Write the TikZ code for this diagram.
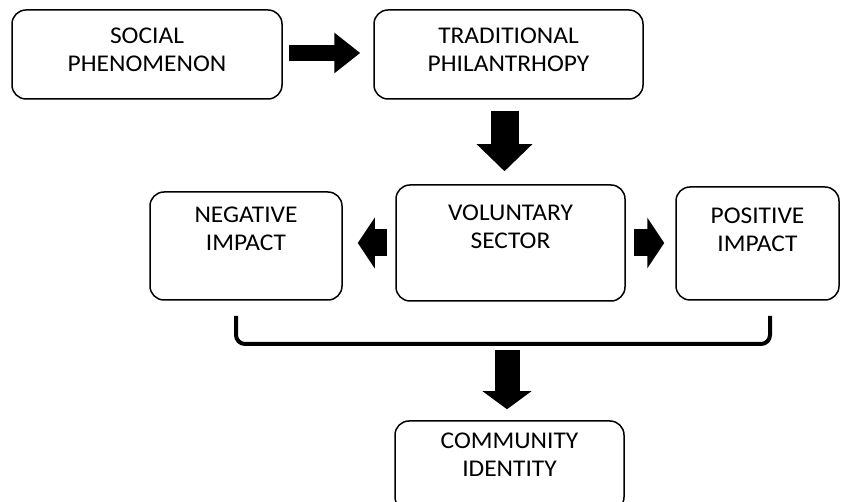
\documentclass[tikz,border=0pt]{standalone}
\usepackage{fontspec}
\setmainfont{Carlito}[FakeStretch=1.06]
\usetikzlibrary{arrows.meta}
\begin{document}
\begin{tikzpicture}[x=1pt,y=-1pt,
  box/.style={draw=black, line width=1.5pt, rounded corners=14pt, fill=white, inner sep=0pt},
  txt/.style={align=center, font=\fontsize{24}{28}\selectfont, inner sep=0pt},
  fatH/.style={line width=16pt, -{Triangle[width=39pt,length=26pt]}},
  fatV/.style={line width=28pt, -{Triangle[width=54pt,length=27pt]}},
  fatS/.style={line width=27pt, -{Triangle[width=50pt,length=17pt]}},
  fatB/.style={line width=25pt, -{Triangle[width=48pt,length=18pt]}},
  brk/.style={line width=4pt, rounded corners=9pt}
]
\useasboundingbox (0,0) rectangle (841,502);
\clip (0,0) rectangle (841,502);
\fill[white] (0,0) rectangle (841,502);

\node[box, minimum width=270pt, minimum height=89pt] (soc) at (147,54.5) {};
\node[txt] (soct) at ([yshift=5pt]soc.center) {SOCIAL\\PHENOMENON};

\node[box, minimum width=269pt, minimum height=89pt] (trad) at (508.5,54.5) {};
\node[txt] (tradt) at ([yshift=5pt]trad.center) {TRADITIONAL\\PHILANTRHOPY};

\node[box, minimum width=229pt, minimum height=116pt] (vol) at (510.5,243) {};
\node[txt] (volt) at ([yshift=16pt]vol.center) {VOLUNTARY\\SECTOR};

\node[box, minimum width=192pt, minimum height=108pt] (neg) at (246,246) {};
\node[txt] (negt) at ([yshift=17pt]neg.center) {NEGATIVE\\IMPACT};

\node[box, minimum width=163pt, minimum height=113pt] (pos) at (757.5,243.5) {};
\node[txt] (post) at ([yshift=14pt]pos.center) {POSITIVE\\IMPACT};

\node[box, minimum width=229pt, minimum height=90pt] (com) at (509.5,466) {};
\node[txt] (comt) at ([yshift=11pt]com.center) {COMMUNITY\\IDENTITY};

% arrows
\draw[fatH, shorten <=6pt, shorten >=13pt] ([yshift=1.5pt]soc.east) -- ([yshift=1.5pt]soc.east -| trad.west);
\draw[fatV, shorten <=11pt, shorten >=13pt] ([xshift=-4pt]trad.south) -- ([xshift=-4pt]trad.south |- vol.north);
\draw[fatS, shorten <=8pt, shorten >=15pt] (vol.west) -- (vol.west -| neg.east);
\draw[fatS, shorten <=8pt, shorten >=11pt] (vol.east) -- (vol.east -| pos.west);

% bracket
\coordinate (bl) at (236,316);
\coordinate (br) at (770,316);
\coordinate (bm) at (507,344);
\draw[brk] (bl) -- (bl |- bm) -- (br |- bm) -- (br);
\draw[fatB, shorten <=6pt, shorten >=11pt] (bm) -- (bm |- com.north);
\end{tikzpicture}
\end{document}
